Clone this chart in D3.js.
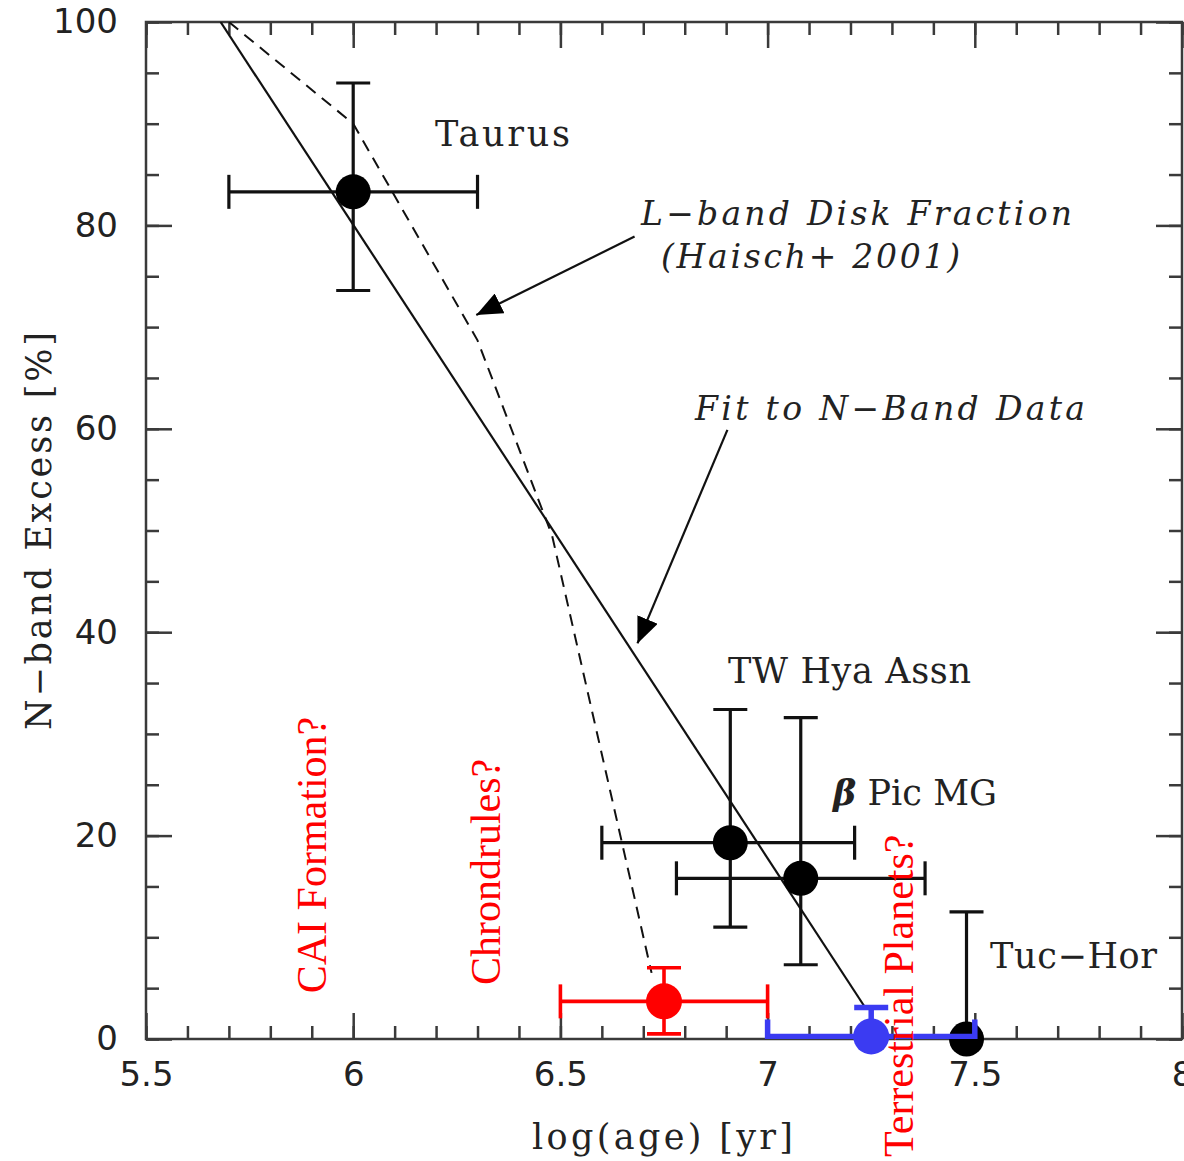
<!DOCTYPE html>
<html>
<head>
<meta charset="utf-8">
<script src="https://cdn.jsdelivr.net/npm/d3@7"></script>
<style>
  body { margin: 0; background: #fff; }
  svg { display: block; }
</style>
</head>
<body>
<div id="chart"></div>
<script>
// Data
const clusterNames = ["Taurus", "TW Hya Assn", "β Pic MG", "Tuc−Hor"];
const clusterAge = [6.0, 6.91, 7.08, 7.48];
const clusterExcess = [83.3, 19.3, 15.8, 0];
const clusterAgeLo = [5.7, 6.6, 6.78, null];
const clusterAgeHi = [6.3, 7.21, 7.38, null];
const clusterExcessLo = [73.6, 11.0, 7.3, -12.5];
const clusterExcessHi = [94.0, 32.4, 31.6, 12.5];

// coloured points (red, blue)
const extraColor = ["#ff0000", "#3b3bf2"];
const extraAge = [6.75, 7.25];
const extraExcess = [3.7, 0.25];
const extraAgeLo = [6.5, 7.0];
const extraAgeHi = [7.0, 7.5];
const extraExcessLo = [0.5, -2.8];
const extraExcessHi = [7.0, 3.1];

// fit to N-band data (solid) and L-band disk fraction (dashed)
const fitAge = [5.68, 7.237];
const fitExcess = [100, 3.0];
const lbandAge = [5.7, 6.0, 6.3, 6.48, 6.72];
const lbandExcess = [100, 90, 68.7, 49.5, 6.5];

// epoch labels (red, vertical)
const epochNames = ["CAI Formation?", "Chrondrules?", "Terrestrial Planets?"];
const epochAge = [5.935, 6.355, 7.35];
const epochExcess = [4.5, 5.3, -11.6];

// axis ticks
const xMajor = [5.5, 6, 6.5, 7, 7.5, 8];
const xMinor = d3.range(55, 81).map(d => d / 10);
const yMajor = [0, 20, 40, 60, 80, 100];
const yMinor = d3.range(0, 101, 5);

let width = 1184, height = 1161;
let m = { left: 146, right: 1182, top: 22, bottom: 1039 };

let svg = d3.select("#chart").append("svg")
  .attr("width", width)
  .attr("height", height);

let x = d3.scaleLinear().domain([5.5, 8]).range([m.left, m.right]);
let y = d3.scaleLinear().domain([0, 100]).range([m.bottom, m.top]);

svg.append("clipPath").attr("id", "plot")
  .append("rect")
  .attr("x", m.left).attr("y", m.top)
  .attr("width", m.right - m.left).attr("height", m.bottom - m.top);

let defs = svg.append("defs");
defs.append("marker")
  .attr("id", "head")
  .attr("markerUnits", "userSpaceOnUse")
  .attr("viewBox", "0 0 26 22")
  .attr("refX", 26).attr("refY", 11)
  .attr("markerWidth", 26).attr("markerHeight", 22)
  .attr("orient", "auto")
  .append("path")
  .attr("d", "M0,0 L26,11 L0,22 Z")
  .attr("fill", "#000");

// Axes with inward ticks on all four sides
let axisColor = "#3a3a3a";
let majorLen = 26, minorLen = 13;

let drawAxis = (axis, tx, ty, values, len, fmt, pad) => {
  let g = svg.append("g")
    .attr("transform", `translate(${tx}, ${ty})`)
    .call(axis.tickValues(values).tickSize(-len).tickPadding(pad).tickFormat(fmt));
  g.select(".domain").remove();
  g.selectAll("line").attr("stroke", axisColor).attr("stroke-width", 2.5);
  g.selectAll("text")
    .attr("fill", "#222")
    .style("font-family", "'DejaVu Sans', sans-serif")
    .style("font-size", "34px");
  return g;
};

let xFmt = d => d3.format("")(d);
drawAxis(d3.axisBottom(x), 0, m.bottom, xMinor, minorLen, "", 0);
drawAxis(d3.axisBottom(x), 0, m.bottom, xMajor, majorLen, xFmt, 0)
  .selectAll("text").attr("y", 0).attr("dy", "0.71em")
  .attr("transform", "translate(0, 23)");
drawAxis(d3.axisTop(x), 0, m.top, xMinor, minorLen, "", 0);
drawAxis(d3.axisTop(x), 0, m.top, xMajor, majorLen, "", 0);
drawAxis(d3.axisLeft(y), m.left, 0, yMinor, minorLen, "", 0);
drawAxis(d3.axisLeft(y), m.left, 0, yMajor, majorLen, d3.format("d"), 28);
drawAxis(d3.axisRight(y), m.right, 0, yMinor, minorLen, "", 0);
drawAxis(d3.axisRight(y), m.right, 0, yMajor, majorLen, "", 0);

svg.append("rect")
  .attr("x", m.left).attr("y", m.top)
  .attr("width", m.right - m.left).attr("height", m.bottom - m.top)
  .attr("fill", "none")
  .attr("stroke", axisColor)
  .attr("stroke-width", 2.5);

// Axis titles
svg.append("text")
  .attr("x", 532).attr("y", 1149)
  .attr("textLength", 261).attr("lengthAdjust", "spacing")
  .style("font-family", "'DejaVu Serif', serif")
  .style("font-size", "35px")
  .attr("fill", "#222")
  .text("log(age) [yr]");

svg.append("text")
  .attr("transform", "translate(51, 730) rotate(-90)")
  .attr("textLength", 398).attr("lengthAdjust", "spacing")
  .style("font-family", "'DejaVu Serif', serif")
  .style("font-size", "35px")
  .attr("fill", "#222")
  .text("N−band Excess [%]");

// Lines
let line = d3.line().x(d => x(d[0])).y(d => y(d[1]));
let plot = svg.append("g").attr("clip-path", "url(#plot)");

plot.append("path")
  .datum(d3.zip(lbandAge, lbandExcess))
  .attr("d", line)
  .attr("fill", "none")
  .attr("stroke", "#111")
  .attr("stroke-width", 2)
  .attr("stroke-dasharray", "12,8");

plot.append("path")
  .datum(d3.zip(fitAge, fitExcess))
  .attr("d", line)
  .attr("fill", "none")
  .attr("stroke", "#111")
  .attr("stroke-width", 2.2);

// Error bars
let cap = 17;
let errorBars = (g, a, e, aLo, aHi, eLo, eHi, color, w) => {
  if (aLo != null) {
    g.append("line").attr("x1", x(aLo)).attr("x2", x(aHi)).attr("y1", y(e)).attr("y2", y(e));
    g.append("line").attr("x1", x(aLo)).attr("x2", x(aLo)).attr("y1", y(e) - cap).attr("y2", y(e) + cap);
    g.append("line").attr("x1", x(aHi)).attr("x2", x(aHi)).attr("y1", y(e) - cap).attr("y2", y(e) + cap);
  }
  g.append("line").attr("x1", x(a)).attr("x2", x(a)).attr("y1", y(eLo)).attr("y2", y(eHi));
  g.append("line").attr("x1", x(a) - cap).attr("x2", x(a) + cap).attr("y1", y(eLo)).attr("y2", y(eLo));
  g.append("line").attr("x1", x(a) - cap).attr("x2", x(a) + cap).attr("y1", y(eHi)).attr("y2", y(eHi));
  g.selectAll("line").attr("stroke", color).attr("stroke-width", w);
};

clusterAge.forEach((a, i) => {
  let g = svg.append("g").attr("clip-path", "url(#plot)");
  errorBars(g, a, clusterExcess[i], clusterAgeLo[i], clusterAgeHi[i],
    clusterExcessLo[i], clusterExcessHi[i], "#111", 3.2);
});

svg.selectAll(".cluster").data(clusterAge).enter()
  .append("circle")
  .attr("class", "cluster")
  .attr("cx", d => x(d))
  .attr("cy", (d, i) => y(clusterExcess[i]))
  .attr("r", 17.5)
  .attr("fill", "#000");

extraAge.forEach((a, i) => {
  let g = svg.append("g").attr("clip-path", "url(#plot)");
  errorBars(g, a, extraExcess[i], extraAgeLo[i], extraAgeHi[i],
    extraExcessLo[i], extraExcessHi[i], extraColor[i], i == 0 ? 3.6 : 5.5);
  svg.append("circle")
    .attr("cx", x(a))
    .attr("cy", y(extraExcess[i]))
    .attr("r", 18)
    .attr("fill", extraColor[i]);
});

// Cluster labels
let labelFont = (t, size) => t
  .style("font-family", "'DejaVu Serif', serif")
  .style("font-size", size + "px")
  .attr("fill", "#222");

let labelX = [435, 728, 833, 990];
let labelY = [146, 683, 805, 968];
let labelLen = [135, 243, 164, 167];
clusterNames.forEach((n, i) => {
  let t = svg.append("text")
    .attr("x", labelX[i]).attr("y", labelY[i])
    .attr("textLength", labelLen[i]).attr("lengthAdjust", "spacing");
  labelFont(t, 35);
  if (n.startsWith("β")) {
    t.append("tspan").style("font-style", "italic").style("font-weight", "bold").text("β");
    t.append("tspan").text(" Pic  MG");
  } else {
    t.text(n);
  }
});

// Annotations with arrows
let noteText = ["L−band Disk Fraction", "(Haisch+ 2001)", "Fit to N−Band Data"];
let noteX = [641, 661, 695];
let noteY = [225, 268, 420];
let noteLen = [431, 299, 390];
noteText.forEach((n, i) => {
  let t = svg.append("text")
    .attr("x", noteX[i]).attr("y", noteY[i])
    .attr("textLength", noteLen[i]).attr("lengthAdjust", "spacing")
    .style("font-style", "italic")
    .text(n);
  labelFont(t, 33);
});

let arrowFrom = [[6.679, 78.9], [6.903, 59.9]];
let arrowTo = [[6.297, 71.2], [6.686, 38.9]];
arrowFrom.forEach((f, i) => {
  svg.append("line")
    .attr("x1", x(f[0])).attr("y1", y(f[1]))
    .attr("x2", x(arrowTo[i][0])).attr("y2", y(arrowTo[i][1]))
    .attr("stroke", "#111")
    .attr("stroke-width", 2.2)
    .attr("marker-end", "url(#head)");
});

// Red vertical epoch labels
epochNames.forEach((n, i) => {
  svg.append("text")
    .attr("transform", `translate(${x(epochAge[i])}, ${y(epochExcess[i])}) rotate(-90)`)
    .style("font-family", "'Liberation Serif', 'Times New Roman', serif")
    .style("font-size", "42px")
    .attr("fill", "#ff0000")
    .text(n);
});
</script>
</body>
</html>
